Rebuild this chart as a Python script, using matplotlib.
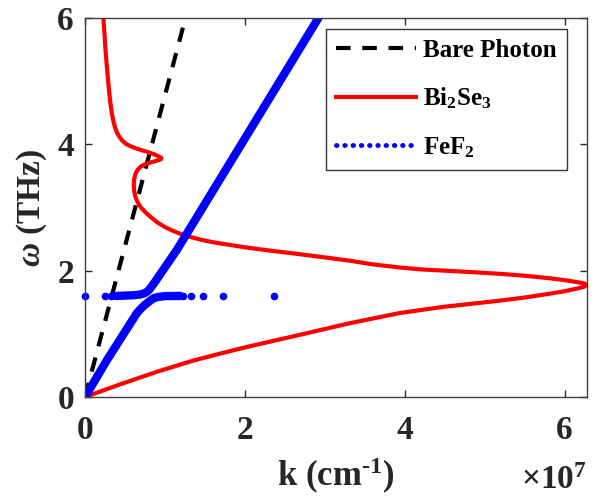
import numpy as np
import matplotlib.pyplot as plt
from matplotlib.lines import Line2D

plt.rcParams['font.family'] = ['Liberation Serif', 'DejaVu Serif']
plt.rcParams['font.weight'] = 'bold'
plt.rcParams['mathtext.fontset'] = 'custom'
plt.rcParams['mathtext.rm'] = 'Liberation Serif:bold'
plt.rcParams['mathtext.it'] = 'Liberation Serif:bold:italic'
plt.rcParams['mathtext.bf'] = 'Liberation Serif:bold'

# bare photon line (k in 1e7 cm^-1, omega in THz)
photon_k = [0.0, 1.257]
photon_w = [0.0, 6.0]

# Bi2Se3 dispersion, ordered by omega
bise_k = [0.0, 0.45, 0.9, 1.35, 1.7, 2.0, 2.69, 3.3, 3.94, 4.5, 5.19, 5.5, 5.81, 6.0, 6.15, 6.24, 6.28,
          6.24, 6.15, 6.0, 5.81, 5.5, 5.19, 4.8, 4.5, 4.2, 3.94, 3.6, 3.3, 3.0, 2.69, 2.3,
          2.0, 1.8, 1.6, 1.45, 1.3, 1.2, 1.1, 1.0, 0.91, 0.83, 0.76, 0.70, 0.66, 0.63,
          0.615, 0.61, 0.615, 0.63, 0.66, 0.70, 0.76, 0.84, 0.91, 0.95, 0.955, 0.92, 0.86,
          0.78, 0.70, 0.63, 0.56, 0.51, 0.465, 0.43, 0.40, 0.375, 0.355, 0.335, 0.315, 0.30,
          0.285, 0.27, 0.255, 0.243, 0.23]
bise_w = [0.0, 0.205, 0.40, 0.575, 0.69, 0.785, 0.985, 1.165, 1.33, 1.43, 1.525, 1.575, 1.635, 1.675, 1.715, 1.745, 1.77,
          1.80, 1.82, 1.85, 1.88, 1.92, 1.95, 1.98, 2.00, 2.02, 2.05, 2.10, 2.16, 2.21, 2.26, 2.32,
          2.37, 2.41, 2.45, 2.49, 2.54, 2.58, 2.63, 2.69, 2.76, 2.84, 2.92, 3.00, 3.08, 3.17,
          3.26, 3.36, 3.45, 3.53, 3.60, 3.65, 3.69, 3.72, 3.745, 3.765, 3.785, 3.81, 3.845,
          3.88, 3.91, 3.94, 3.975, 4.01, 4.06, 4.12, 4.19, 4.27, 4.37, 4.50, 4.68, 4.86,
          5.06, 5.28, 5.52, 5.76, 6.00]

# FeF2 magnon-polariton branches
fef_low_k = [0.0, 0.275, 0.65, 0.70, 0.75, 0.79, 0.83, 0.87, 0.92, 1.0, 1.19]
fef_low_w = [0.0, 0.585, 1.33, 1.40, 1.46, 1.50, 1.54, 1.57, 1.585, 1.597, 1.60]
fef_up_k = [0.38, 0.6, 0.68, 0.74, 0.78, 0.81, 0.84, 0.88, 0.95, 1.15, 2.92]
fef_up_w = [1.60, 1.61, 1.62, 1.64, 1.67, 1.71, 1.76, 1.83, 1.96, 2.33, 6.0]
fef_sparse_k = [0.0, 0.25, 0.33, 1.23, 1.33, 1.48, 1.73, 2.37]
fef_sparse_w = [1.6, 1.6, 1.6, 1.6, 1.6, 1.6, 1.6, 1.6]

fig = plt.figure(figsize=(6.04, 5.0), dpi=100)
ax = fig.add_axes([85 / 604, 103 / 500, 502 / 604, 379 / 500])

ax.plot(photon_k, photon_w, '--', color='black', lw=3, dashes=(3.5, 2.8))
ax.plot(bise_k, bise_w, '-', color='red', lw=3, solid_joinstyle='round')
ax.plot(fef_low_k, fef_low_w, '-', color='blue', lw=6, solid_capstyle='round', solid_joinstyle='round')
ax.plot(fef_up_k, fef_up_w, '-', color='blue', lw=6, solid_capstyle='round', solid_joinstyle='round')
ax.plot(fef_sparse_k, fef_sparse_w, '.', color='blue', ms=9, ls='none', clip_on=False)

ax.set_xlim(0, 6.28)
ax.set_ylim(0, 6)
ax.set_xticks([0, 2, 4, 6])
ax.set_yticks([0, 2, 4, 6])
ax.tick_params(direction='in', length=5, width=1, top=True, right=True,
               labelsize=24, colors='#262626', pad=13)
ax.tick_params(axis='y', pad=8)
for lbl in ax.get_xticklabels() + ax.get_yticklabels():
    lbl.set_fontweight('bold')
for s in ax.spines.values():
    s.set_color('#404040')
    s.set_linewidth(1)

ax.set_xlabel('k (cm$^{\\mathbf{\u2010}\\mathbf{1}}$)', fontsize=25, fontweight='bold',
              color='#262626', labelpad=7)
ax.set_ylabel(r'$\omega$ (THz)', fontsize=24, fontweight='bold', color='#262626', labelpad=6)
fig.text(0.972, 0.008, r'$\times$10$^{7}$', fontsize=24, fontweight='bold', color='#262626',
         ha='right', va='bottom')

handles = [
    Line2D([], [], color='black', lw=3, ls='--', dashes=(3.5, 2.8)),
    Line2D([], [], color='red', lw=3),
    Line2D([], [], color='blue', lw=3.5, ls=(0, (0.1, 1.6)), dash_capstyle='round'),
]
labels = ['Bare Photon', r'Bi$_\mathbf{2}$Se$_\mathbf{3}$', r'FeF$_\mathbf{2}$']
leg = ax.legend(handles, labels, loc='upper right', bbox_to_anchor=(0.96, 0.971),
                borderaxespad=0, fontsize=18, handlelength=3.2, handletextpad=0.3,
                labelspacing=0.95, frameon=True, fancybox=False, borderpad=0.4)
leg.get_frame().set_edgecolor('black')
leg.get_frame().set_linewidth(1)
for t in leg.get_texts():
    t.set_fontweight('bold')

fig.savefig('out.png', dpi=100)
